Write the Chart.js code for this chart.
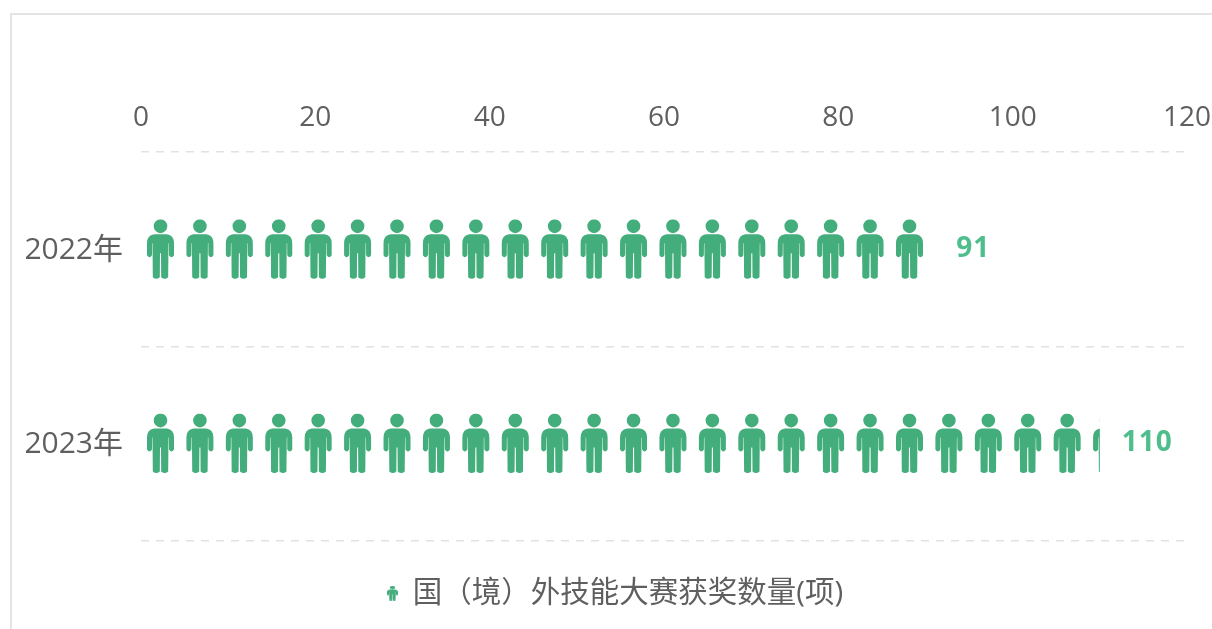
<!DOCTYPE html>
<html>
<head>
<meta charset="utf-8">
<script src="https://cdn.jsdelivr.net/npm/chart.js@4"></script>
<style>
  html, body { margin: 0; background: #fff; overflow: hidden; }
  #frame { position: absolute; left: 10px; top: 13px; width: 1300px; height: 700px; border: 2px solid #e4e4e4; box-sizing: border-box; }
  #chart { position: absolute; left: 0; top: 0; }
</style>
</head>
<body>
<div id="frame"></div>
<canvas id="chart" width="1212" height="629"></canvas>
<script>
const categories = ["2022年", "2023年"];
const awards = [91, 110];
const xTicks = [0, 20, 40, 60, 80, 100, 120];
const seriesName = "国（境）外技能大赛获奖数量(项)";

const green = "#43ad7b";
const labelGreen = "#4fbd8c";
const textColor = "#5f5f5f";
const fontFamily = '"Open Sans", "Noto Sans CJK SC", sans-serif';

// person icon, drawn in a 27 x 60 box
function personPath() {
  const p = new Path2D();
  p.ellipse(13.5, 7, 6.8, 7, 0, 0, Math.PI * 2);
  p.moveTo(7, 15);
  p.lineTo(20, 15);
  p.quadraticCurveTo(27, 16, 27, 24);
  p.lineTo(27, 36);
  p.quadraticCurveTo(24.5, 40, 22, 36);
  p.lineTo(21.9, 24);
  p.lineTo(21.5, 24);
  p.lineTo(21.2, 58);
  p.quadraticCurveTo(17.8, 61, 14.2, 58);
  p.lineTo(14, 34);
  p.lineTo(13, 34);
  p.lineTo(12.8, 58);
  p.quadraticCurveTo(9.2, 61, 5.8, 58);
  p.lineTo(5.5, 24);
  p.lineTo(5.1, 24);
  p.lineTo(5, 36);
  p.quadraticCurveTo(2.5, 40, 0, 36);
  p.lineTo(0, 24);
  p.quadraticCurveTo(0, 16, 7, 15);
  p.closePath();
  return p;
}
const person = personPath();

// small icon for the legend
const legendIcon = document.createElement("canvas");
legendIcon.width = 11;
legendIcon.height = 15;
const iconCtx = legendIcon.getContext("2d");
iconCtx.scale(11 / 27, 15 / 60);
iconCtx.fillStyle = green;
iconCtx.fill(person);

const personRows = {
  id: "personRows",
  afterDatasetsDraw(chart) {
    const ctx = chart.ctx;
    const bars = chart.getDatasetMeta(0).data;
    const step = 39.42;
    bars.forEach((bar, i) => {
      const top = bar.y - 30;
      ctx.save();
      ctx.beginPath();
      ctx.rect(bar.base, top, bar.x - bar.base, 60);
      ctx.clip();
      ctx.fillStyle = green;
      for (let x = bar.base + 6; x < bar.x; x += step) {
        ctx.save();
        ctx.translate(x, top);
        ctx.fill(person);
        ctx.restore();
      }
      ctx.restore();

      ctx.save();
      ctx.fillStyle = labelGreen;
      ctx.font = "bold 28px " + fontFamily;
      ctx.letterSpacing = "1px";
      ctx.textAlign = "left";
      ctx.textBaseline = "middle";
      ctx.fillText(awards[i], bar.x + 22, bar.y);
      ctx.restore();
    });
  }
};

new Chart(document.getElementById("chart"), {
  type: "bar",
  data: {
    labels: categories,
    datasets: [{
      label: seriesName,
      data: awards,
      backgroundColor: "transparent",
      borderWidth: 0,
      barThickness: 60,
      pointStyle: legendIcon
    }]
  },
  options: {
    indexAxis: "y",
    responsive: false,
    animation: false,
    layout: { padding: { top: 80, right: 0, left: 18, bottom: 11 } },
    scales: {
      x: {
        position: "top",
        min: 0,
        max: 120,
        afterFit: (scale) => { scale.height = 72; scale.paddingRight = 25; scale.paddingLeft = 0; },
        afterBuildTicks: (scale) => { scale.ticks = xTicks.map((v) => ({ value: v })); },
        grid: { display: false, drawTicks: false },
        border: { display: false },
        ticks: { color: textColor, padding: 17, font: { family: fontFamily, size: 28 } }
      },
      y: {
        afterFit: (scale) => { scale.width = 123; },
        grid: { color: "#e2e2e2", lineWidth: 1.5, drawTicks: false },
        border: { display: false, dash: [8, 7] },
        ticks: { color: textColor, padding: 18, labelOffset: 1, font: { family: fontFamily, size: 30 } }
      }
    },
    plugins: {
      tooltip: { enabled: false },
      legend: {
        position: "bottom",
        labels: {
          usePointStyle: true,
          pointStyleWidth: 11,
          color: textColor,
          padding: 38,
          font: { family: fontFamily, size: 29.5 }
        }
      }
    }
  },
  plugins: [personRows]
});
</script>
</body>
</html>
